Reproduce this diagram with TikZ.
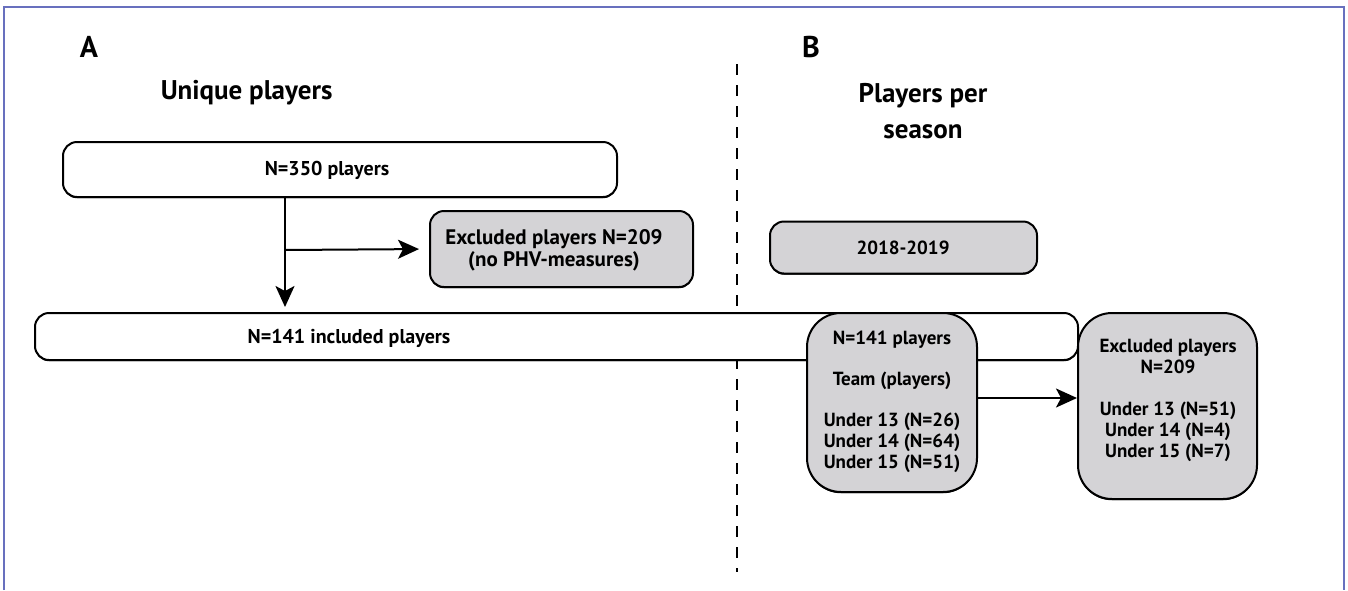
\documentclass[tikz,border=0pt]{standalone}
\usepackage{fontspec}
\setmainfont{PT Sans}
\usetikzlibrary{arrows.meta,shadows}
\definecolor{framecol}{RGB}{104,112,190}
\definecolor{boxgray}{RGB}{212,211,214}
\begin{document}
\begin{tikzpicture}[x=1pt, y=-1pt, font=\bfseries\fontsize{19}{21}\selectfont,
	whitebox/.style = { draw, line width=2pt, rounded corners=14pt, fill=white, inner sep=0pt,
		drop shadow={shadow xshift=0pt, shadow yshift=-1.2pt, opacity=1, fill=black} },
	graybox/.style = { whitebox, fill=boxgray },
	bigbox/.style = { graybox, rounded corners=34pt },
	heading/.style = { font=\bfseries\fontsize{27}{36}\selectfont, align=center },
	panel/.style = { font=\bfseries\fontsize{30}{32}\selectfont },
	arr/.style = { line width=2pt, -{Stealth[length=21pt,width=19pt,inset=5pt]} }]
	\useasboundingbox (0,0) rectangle (1348,590);
	% frame, open at the bottom
	\draw [framecol, line width=1.5pt] (4,590) -- (4,7) -- (1344,7) -- (1344,590);
	% divider between the two panels
	\coordinate (top) at (737,64);
	\coordinate (bot) at (737,572);
	\draw [line width=1.8pt, dash pattern=on 11pt off 10pt] (top) -- (bot);
	% panel A
	\node (lblA) [panel] at (89,47) { A };
	\node (headA) [heading] at (250,93) { Unique players };
	\node (n350) [whitebox, minimum width=554, minimum height=55] at (340,169.5) {};
	\node (n350txt) [font=\bfseries\fontsize{20}{22}\selectfont] at (327,170) { N=350 players };
	\node (excl) [graybox, minimum width=263, minimum height=76] at (561.5,249) {};
	\node (excltxt) [align=center, font=\bfseries\fontsize{21}{22}\selectfont] at (554,250) { Excluded players N=209\\(no PHV-measures) };
	\node (incl) [whitebox, minimum width=1043, minimum height=47] at (556.5,336.5) {};
	\node (incltxt) [font=\bfseries\fontsize{20}{22}\selectfont] at (349,338) { N=141 included players };
	\coordinate (split) at (285,250);
	\draw [arr, shorten >=5pt] (split |- n350.south) -- (split |- incl.north);
	\draw [arr, shorten >=10pt] (split) -- (excl.west);
	% panel B
	\node (lblB) [panel] at (811,47) { B };
	\node (headB) [heading] at (923,111) { Players per\\season };
	\node (season) [graybox, minimum width=267, minimum height=52] at (903.5,247.5) {};
	\node (seasontxt) at (903,248) { 2018-2019 };
	\node (team) [bigbox, minimum width=170, minimum height=179] at (892,402.5) {};
	\node (teamtxt) [align=center] at (892,402) { N=141 players\\[20pt]Team (players)\\[20pt]Under 13 (N=26)\\Under 14 (N=64)\\Under 15 (N=51) };
	\node (exclB) [bigbox, minimum width=179, minimum height=186] at (1167.5,406) {};
	\node (exclBtxt) [align=center] at (1168,400) { Excluded players\\N=209\\[21pt]Under 13 (N=51)\\Under 14 (N=4)\\Under 15 (N=7) };
	\draw [arr] (team.east |- 0,398) -- (exclB.west |- 0,398);
\end{tikzpicture}
\end{document}
